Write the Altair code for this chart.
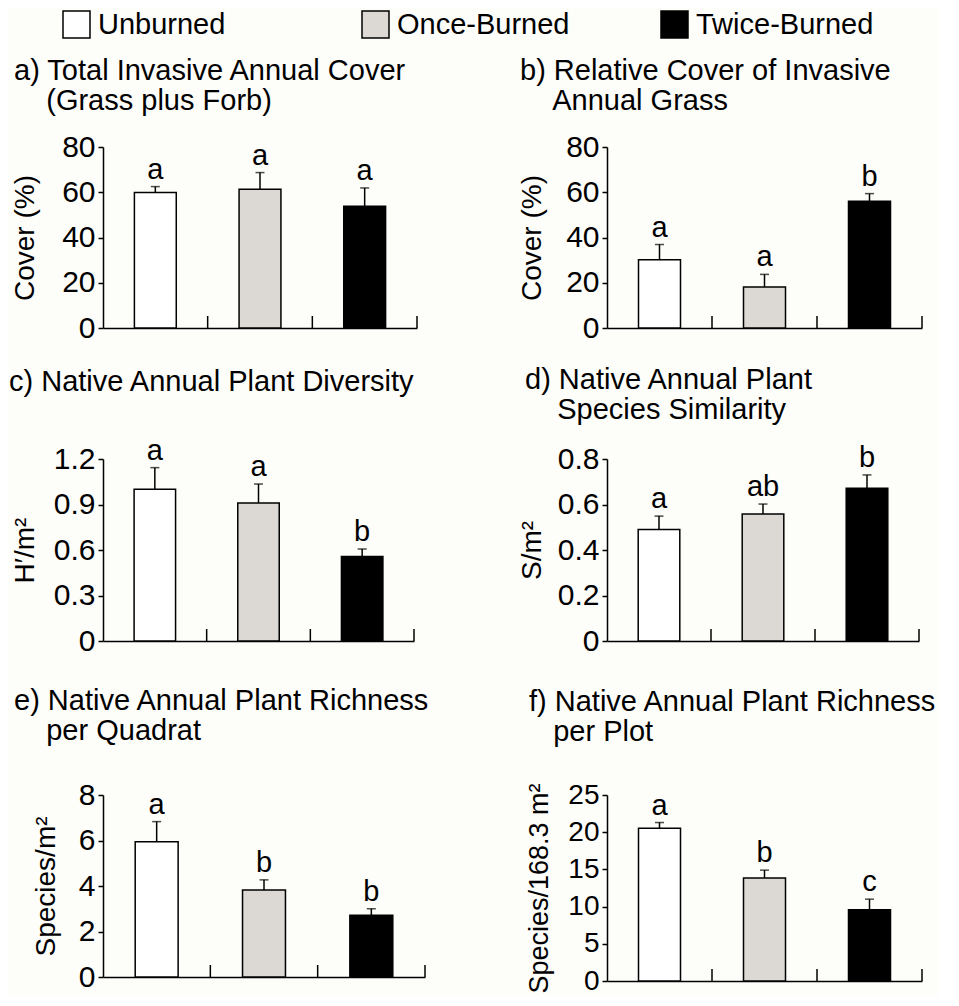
import altair as alt
import pandas as pd

FONT = "Liberation Sans"

treatments = ["Unburned", "Once-Burned", "Twice-Burned"]
fill_colors = ["#ffffff", "#dcd9d4", "#000000"]

# a) Total invasive annual cover
a_mean = [59.9, 61.3, 53.8]
a_upper = [62.5, 68.7, 61.9]
a_letters = ["a", "a", "a"]
a_ticks = [0, 20, 40, 60, 80]

# b) Relative cover of invasive annual grass
b_mean = [30.2, 18.1, 56.0]
b_upper = [36.9, 23.7, 59.4]
b_letters = ["a", "a", "b"]
b_ticks = [0, 20, 40, 60, 80]

# c) Native annual plant diversity
c_mean = [1.00, 0.91, 0.557]
c_upper = [1.143, 1.035, 0.606]
c_letters = ["a", "a", "b"]
c_ticks = [0, 0.3, 0.6, 0.9, 1.2]

# d) Native annual plant species similarity
d_mean = [0.490, 0.558, 0.671]
d_upper = [0.549, 0.602, 0.730]
d_letters = ["a", "ab", "b"]
d_ticks = [0, 0.2, 0.4, 0.6, 0.8]

# e) Native annual plant richness per quadrat
e_mean = [5.95, 3.82, 2.71]
e_upper = [6.83, 4.27, 3.00]
e_letters = ["a", "b", "b"]
e_ticks = [0, 2, 4, 6, 8]

# f) Native annual plant richness per plot
f_mean = [20.54, 13.86, 9.57]
f_upper = [21.3, 14.9, 11.0]
f_letters = ["a", "b", "c"]
f_ticks = [0, 5, 10, 15, 20, 25]

NB = "\u00a0"
ZW = "\u200b"


def indent(n, s):
    return ZW + NB * n + s


legend = alt.Legend(
    title=None,
    orient="none",
    legendX=-41,
    legendY=-137,
    direction="horizontal",
    columns=3,
    gridAlign="all",
    columnPadding=83,
    symbolType="square",
    symbolSize=729,
    symbolStrokeColor="black",
    symbolStrokeWidth=1.5,
    labelFont=FONT,
    labelFontSize=29,
    labelColor="black",
    labelOffset=7,
    labelLimit=0,
)


def panel(mean, upper, letters, ticks, ytitle, title_lines, w, h, toff, tdx,
          bottom_pad=0, ytitle_pad=14, ytitle_size=28, label_size=30):
    df = pd.DataFrame({"treatment": treatments, "mean": mean, "upper": upper, "letter": letters})
    ymax = ticks[-1]
    xaxis_kw = dict(labels=False, ticks=False, domainColor="black", domainWidth=1.5, grid=False)
    if bottom_pad:
        xaxis_kw.update(title=NB, titleFontSize=10, titlePadding=bottom_pad)
    else:
        xaxis_kw.update(title=None)
    xaxis = alt.Axis(**xaxis_kw)
    xscale = alt.Scale(paddingInner=0, paddingOuter=0)
    xenc = alt.X("treatment:N", sort=treatments, scale=xscale, axis=xaxis)
    yscale = alt.Scale(domain=[0, ymax], nice=False, zero=True)
    yaxis = alt.Axis(
        values=ticks,
        format=".2~f",
        title=ytitle,
        titleFont=FONT,
        titleFontSize=ytitle_size,
        titleFontWeight="normal",
        titleColor="black",
        titlePadding=ytitle_pad,
        labelFont=FONT,
        labelFontSize=label_size,
        labelColor="black",
        labelPadding=3,
        labelOverlap=False,
        labelFlush=False,
        tickColor="black",
        tickSize=5,
        tickWidth=1.5,
        domainColor="black",
        domainWidth=1.5,
        grid=False,
    )
    bars = alt.Chart(df).mark_bar(stroke="black", strokeWidth=1.5, width=alt.RelativeBandSize(0.4)).encode(
        x=xenc,
        y=alt.Y("mean:Q", scale=yscale, axis=yaxis),
        fill=alt.Fill("treatment:N", sort=treatments, scale=alt.Scale(domain=treatments, range=fill_colors), legend=legend),
    )
    err = alt.Chart(df).mark_rule(color="black", strokeWidth=1.5).encode(
        x=xenc, y=alt.Y("mean:Q", scale=yscale, axis=yaxis), y2="upper:Q"
    )
    cap = alt.Chart(df).mark_tick(color="black", thickness=1.5, size=9, orient="horizontal").encode(
        x=xenc, y=alt.Y("upper:Q", scale=yscale, axis=yaxis)
    )
    txt = alt.Chart(df).mark_text(baseline="alphabetic", dy=-8, font=FONT, fontSize=29, color="black").encode(
        x=xenc, y=alt.Y("upper:Q", scale=yscale, axis=yaxis), text="letter:N"
    )
    xt = alt.Chart(df).mark_rule(color="black", strokeWidth=1.5).encode(
        x=alt.X("treatment:N", sort=treatments, bandPosition=1, scale=xscale, axis=xaxis),
        y=alt.value(h),
        y2=alt.value(h - 12),
    )
    return alt.layer(bars, err, cap, txt, xt).properties(
        width=w,
        height=h,
        title=alt.TitleParams(
            text=title_lines,
            anchor="start",
            frame="group",
            dx=tdx,
            font=FONT,
            fontSize=29,
            fontWeight="normal",
            color="black",
            lineHeight=30,
            offset=toff,
        ),
    )


pa = panel(a_mean, a_upper, a_letters, a_ticks, "Cover (%)",
           ["a) Total Invasive Annual Cover", indent(4, "(Grass plus Forb)")], 314, 181, 16, -89,
           ytitle_pad=22)
pb = panel(b_mean, b_upper, b_letters, b_ticks, "Cover (%)",
           ["b) Relative Cover of Invasive", indent(4, "Annual Grass")], 315, 181, 16, -87,
           ytitle_pad=19)
pc = panel(c_mean, c_upper, c_letters, c_ticks, "H\u2032/m\u00b2",
           ["c) Native Annual Plant Diversity", NB], 311, 182, 10, -94, bottom_pad=13)
pd_ = panel(d_mean, d_upper, d_letters, d_ticks, "S/m\u00b2",
            ["d) Native Annual Plant", indent(4, "Species Similarity")], 312, 182, 19, -82, bottom_pad=13,
            ytitle_pad=11)
pe = panel(e_mean, e_upper, e_letters, e_ticks, "Species/m\u00b2",
           ["e) Native Annual Plant Richness", indent(4, "per Quadrat")], 322, 182, 34, -89,
           ytitle_pad=18)
pf = panel(f_mean, f_upper, f_letters, f_ticks, "Species/168.3 m\u00b2",
           ["f) Native Annual Plant Richness", indent(3, "per Plot")], 315, 186, 34, -78,
           ytitle_size=27, label_size=28)

chart = (
    alt.concat(pa, pb, pc, pd_, pe, pf, columns=2, spacing=alt.RowColnumber(row=21, column=86), align="each")
    .resolve_scale(fill="shared")
    .resolve_legend(fill="shared")
    .properties(padding={"left": 0, "top": 2, "right": 0, "bottom": 0}, background="#fdfdfa")
    .configure_view(stroke="transparent")
    .configure_axis(labelOverlap=False)
    .configure_axisY(labelOverlap=False)
)

chart.save("out.html", embed_options={"renderer": "svg", "actions": False})
